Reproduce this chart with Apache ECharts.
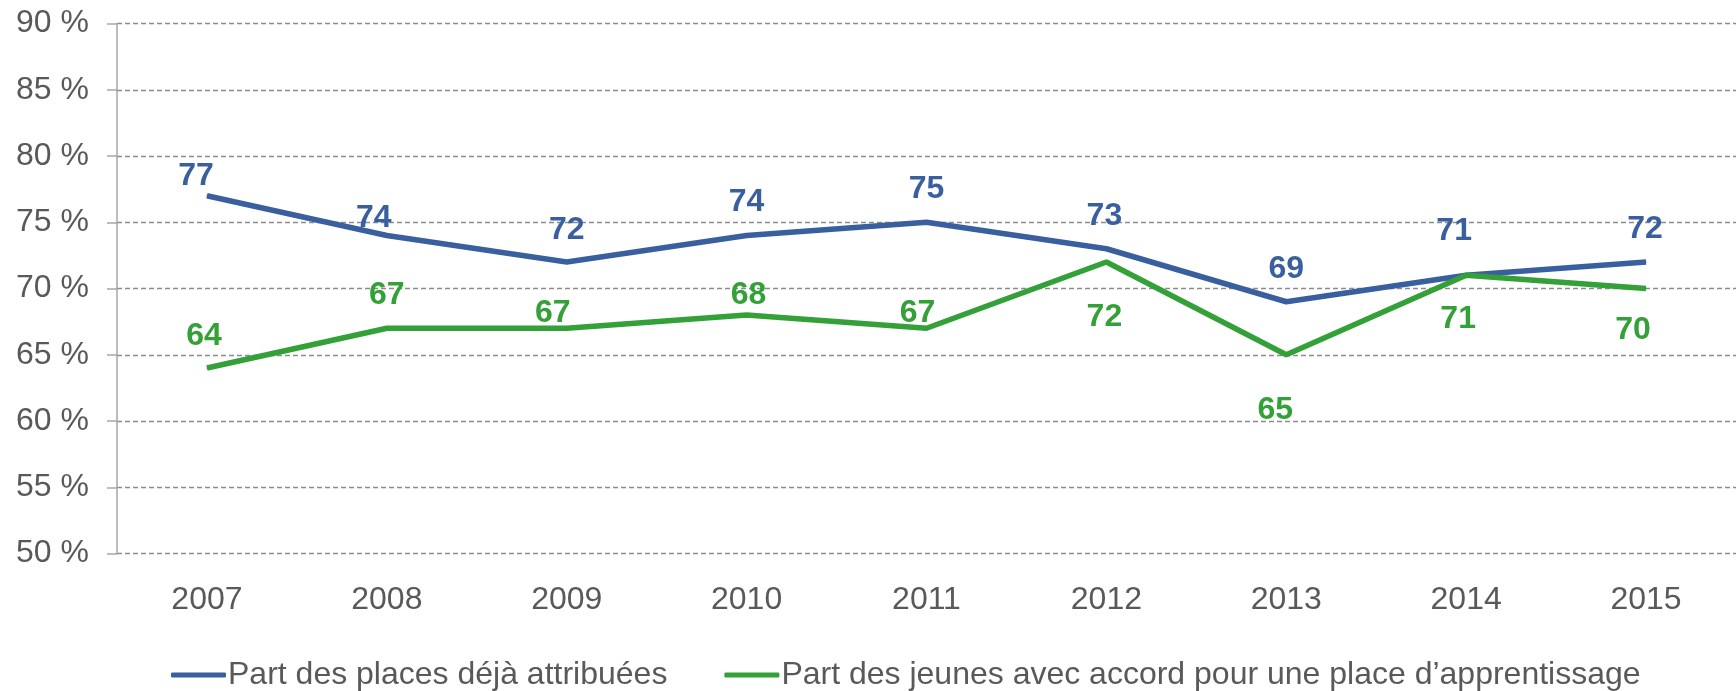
<!DOCTYPE html>
<html>
<head>
<meta charset="utf-8">
<script src="https://cdn.jsdelivr.net/npm/echarts@6/dist/echarts.min.js"></script>
<style>
  html, body { margin: 0; padding: 0; background: #fff; }
  #main { width: 1736px; height: 691px; }
</style>
</head>
<body>
<div id="main"></div>
<script>
const years = ["2007", "2008", "2009", "2010", "2011", "2012", "2013", "2014", "2015"];
const placesAttribuees = [77, 74, 72, 74, 75, 73, 69, 71, 72];
const jeunesAccord = [64, 67, 67, 68, 67, 72, 65, 71, 70];
const seriesNames = ["Part des places déjà attribuées", "Part des jeunes avec accord pour une place d\u2019apprentissage"];

// label placement, picked by hand like the original
const blueLabelShift = [[-11, -20], [-13, -17], [0, -32], [0, -33], [0, -33], [-2, -33], [0, -33], [-12, -44], [-1, -33]];
const greenLabelShift = [[-3, -32], [0, -33], [-14, -15], [2, -20], [-9, -15], [-2, 55], [-11, 55], [-8, 44], [-13, 42]];

const BLUE = "#3a5f9f";
const GREEN = "#33a038";
const FONT = "Liberation Sans";

const chart = echarts.init(document.getElementById("main"));

function withLabels(values, shifts) {
  return values.map(function (v, i) {
    return { value: v, label: { offset: shifts[i] } };
  });
}

const option = {
  animation: false,
  textStyle: { fontFamily: FONT },
  grid: { left: 117, top: 23.5, width: 1630, bottom: 137.5, containLabel: false },
  legend: {
    left: 166,
    top: 654,
    icon: "roundRect",
    itemWidth: 55,
    itemHeight: 5,
    itemGap: 57,
    textStyle: { fontSize: 32, color: "#595959", fontFamily: FONT, padding: [0, 0, 0, -3] },
    data: seriesNames
  },
  xAxis: {
    type: "category",
    data: years,
    boundaryGap: true,
    axisLine: { show: false },
    axisTick: { show: false },
    axisLabel: { fontSize: 32, color: "#595959", margin: 31, fontFamily: FONT }
  },
  yAxis: {
    type: "value",
    min: 50,
    max: 90,
    interval: 5,
    axisLine: { show: true, lineStyle: { color: "#a6a6a6", width: 1.5 } },
    axisTick: { show: true, length: 10, lineStyle: { color: "#a6a6a6", width: 1.5 } },
    axisLabel: { fontSize: 32, color: "#595959", margin: 28, fontFamily: FONT, formatter: "{value} %" },
    splitLine: { show: true, lineStyle: { color: "#8c8c8c", width: 1.3, type: [5, 3] } }
  },
  series: [
    {
      name: seriesNames[0],
      type: "line",
      data: withLabels(placesAttribuees, blueLabelShift),
      symbol: "circle",
      symbolSize: 1,
      color: BLUE,
      lineStyle: { width: 5.5, color: BLUE },
      label: { show: true, position: "inside", color: BLUE, fontSize: 32, fontWeight: "bold", fontFamily: FONT },
      z: 3
    },
    {
      name: seriesNames[1],
      type: "line",
      data: withLabels(jeunesAccord, greenLabelShift),
      symbol: "circle",
      symbolSize: 1,
      color: GREEN,
      lineStyle: { width: 5.5, color: GREEN },
      label: { show: true, position: "inside", color: GREEN, fontSize: 32, fontWeight: "bold", fontFamily: FONT },
      z: 4
    }
  ]
};

chart.setOption(option);
</script>
</body>
</html>
